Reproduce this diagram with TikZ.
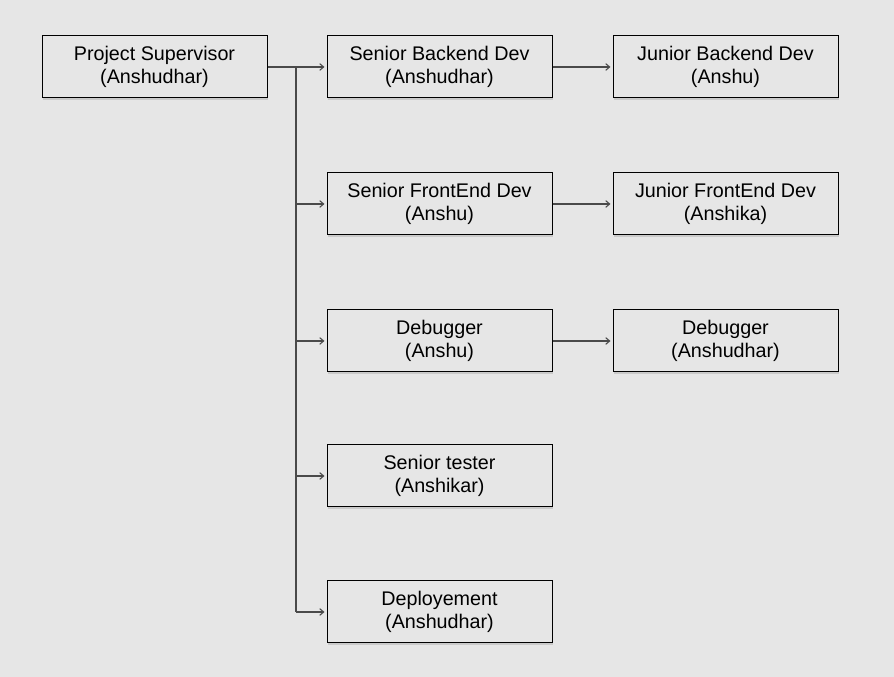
\documentclass[tikz,border=0pt]{standalone}
\usepackage{fontspec}
\setmainfont{Liberation Sans}
\usetikzlibrary{arrows.meta,shadows}
\definecolor{bg}{HTML}{E6E6E6}
\definecolor{ln}{HTML}{4A4A4A}
\begin{document}
\begin{tikzpicture}[x=0.75pt,y=-0.75pt,
  box/.style={draw=black,fill=bg,line width=0.75pt,minimum width=168.75pt,minimum height=46.5pt,
    align=center,inner sep=0pt,font=\fontsize{14.8pt}{17.25pt}\selectfont,
    drop shadow={shadow xshift=0.6pt,shadow yshift=-1.2pt,opacity=0.12,fill=black}},
  conn/.style={draw=ln,line width=0.8pt,-{Straight Barb[length=3pt,width=5pt]}},
  trunk/.style={draw=ln,line width=0.8pt}]
\fill[bg] (0,0) rectangle (894,677);
\useasboundingbox (0,0) rectangle (894,677);
\node[box] (ps) at (154.5,67) {Project Supervisor\\(Anshudhar)};
\node[box] (sb) at (439.5,67) {Senior Backend Dev\\(Anshudhar)};
\node[box] (jb) at (725.5,67) {Junior Backend Dev\\(Anshu)};
\node[box] (sf) at (439.5,204) {Senior FrontEnd Dev\\(Anshu)};
\node[box] (jf) at (725.5,204) {Junior FrontEnd Dev\\(Anshika)};
\node[box] (db) at (439.5,341) {Debugger\\(Anshu)};
\node[box] (jd) at (725.5,341) {Debugger\\(Anshudhar)};
\node[box] (st) at (439.5,476) {Senior tester\\(Anshikar)};
\node[box] (dp) at (439.5,612) {Deployement\\(Anshudhar)};
\coordinate (j0) at (296,67);
\coordinate (j4) at (296,612);
\draw[trunk] (ps.east) -- (j0);
\draw[trunk] (j0) -- (j4);
\draw[conn] (j0) -- ([xshift=-1.5pt]sb.west);
\draw[conn] (j0 |- sf.west) -- ([xshift=-1.5pt]sf.west);
\draw[conn] (j0 |- db.west) -- ([xshift=-1.5pt]db.west);
\draw[conn] (j0 |- st.west) -- ([xshift=-1.5pt]st.west);
\draw[conn] (j4) -- ([xshift=-1.5pt]dp.west);
\draw[conn] (sb.east) -- ([xshift=-1.5pt]jb.west);
\draw[conn] (sf.east) -- ([xshift=-1.5pt]jf.west);
\draw[conn] (db.east) -- ([xshift=-1.5pt]jd.west);
\end{tikzpicture}
\end{document}
